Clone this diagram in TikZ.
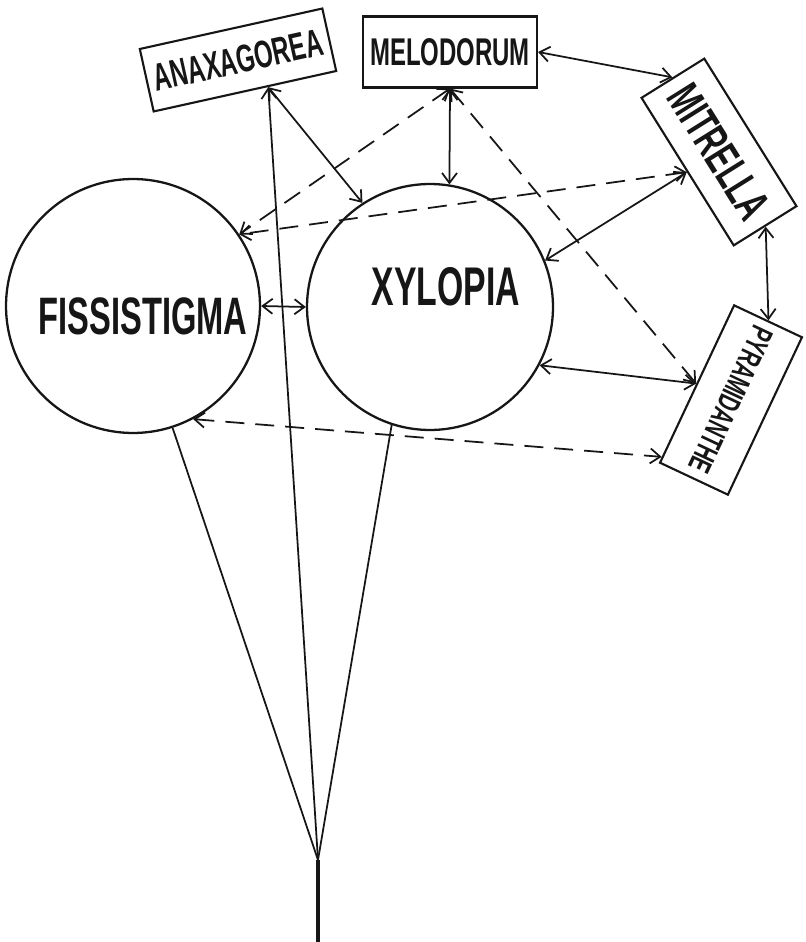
\documentclass[tikz,border=0pt]{standalone}
\usepackage{fontspec}
\usepackage{xcolor}
\usepackage{tikz}
\usetikzlibrary{arrows.meta, calc}
\newfontfamily\letrero[FakeStretch=0.62]{Liberation Sans}
\definecolor{ctinta}{HTML}{161616}
\tikzset{
  rotulo/.style={font=\letrero\bfseries\fontsize{#1}{#1}\selectfont, text=ctinta},
  genero/.style={circle, draw=ctinta, line width=1.3pt, minimum size=#1, inner sep=0pt},
  caja/.style={rectangle, draw=ctinta, line width=1.2pt, rotulo=#1, inner sep=0pt, minimum width=3.48cm},
  flecha/.style={{Straight Barb[length=2mm,width=3mm]}-{Straight Barb[length=2mm,width=3mm]}, line width=1pt, draw=ctinta},
  trazos/.style={flecha, dash pattern=on 3.8mm off 2.2mm},
  rama/.style={line width=1pt, draw=ctinta},
}

\begin{document}
\begin{tikzpicture}[x=0.02cm, y=-0.02cm]
  \useasboundingbox (0,0) rectangle (805,942);
  \node[genero=5.08cm, label={[rotulo=30, xshift=2mm, yshift=-2mm]center:FISSISTIGMA}] (fis) at (133,306) {};
  \node[genero=4.92cm, label={[rotulo=31, xshift=3.2mm, yshift=4mm]center:XYLOPIA}] (xyl) at (430,307) {};
  \node[caja=22, rotate=12.5, minimum width=3.74cm, minimum height=1.28cm] (ana) at (238,60) {ANAXAGOREA};
  \node[caja=22, minimum height=1.42cm] (mel) at (450,52) {MELODORUM};
  \node[caja=27, rotate=-58, minimum height=1.48cm] (mit) at (719,152) {MITRELLA};
  \node[caja=18, rotate=-115.2, minimum height=1.5cm] (pyr) at (731,400) {PYRAMIDANTHE};
  \coordinate (base) at (318,860);
  \coordinate (raiz) at (318,942);
  \coordinate (anab) at ($(ana.south)!0.25!(ana.south east)$);
  \draw[flecha] (fis.east) -- (xyl.west);
  \draw[flecha] (anab) -- (xyl.123);
  \draw[flecha] (mel.south) -- (xyl.81);
  \draw[flecha] (mel.east) -- (mit.west);
  \draw[flecha] (mit.south) -- (xyl.22);
  \draw[flecha] (mit.east) -- (pyr.west);
  \draw[flecha] (xyl.-28) -- (pyr.south);
  \draw[trazos] (mel.south) -- (fis.34);
  \draw[trazos] (mit.south) -- (fis.34);
  \draw[trazos] (mel.south) -- (pyr.south);
  \draw[trazos] (fis.-62) -- ($(pyr.south)!0.92!(pyr.south east)$);
  \draw[rama] (base) -- (fis.-72);
  \draw[rama] (base) -- (xyl.-108);
  \draw[rama, -{Straight Barb[length=2mm,width=3mm]}] (base) -- (anab);
  \draw[rama, line width=2.6pt] (base) -- (raiz);
\end{tikzpicture}
\end{document}
